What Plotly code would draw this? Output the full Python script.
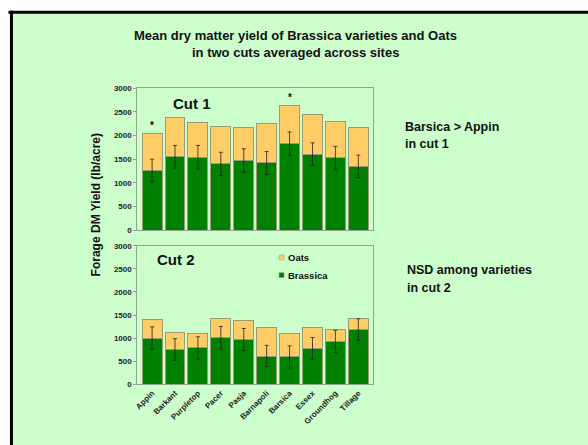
import plotly.graph_objects as go

varieties = ["Appin", "Barkant", "Purpletop", "Pacer", "Pasja", "Barnapoli",
             "Barsica", "Essex", "Groundhog", "Tillage"]

cut1_brassica = [1260, 1550, 1540, 1400, 1470, 1420, 1825, 1605, 1525, 1345]
cut1_total = [2045, 2390, 2280, 2190, 2165, 2260, 2645, 2455, 2300, 2160]
cut1_err = [240, 240, 250, 245, 250, 240, 250, 240, 245, 240]

cut2_brassica = [1000, 755, 790, 1010, 970, 615, 595, 775, 930, 1190]
cut2_total = [1415, 1120, 1100, 1420, 1385, 1235, 1095, 1235, 1190, 1425]
cut2_err = [245, 235, 240, 245, 240, 230, 240, 240, 240, 230]

significant_cut1 = ["Appin", "Barsica"]

cut1_oats = [t - b for t, b in zip(cut1_total, cut1_brassica)]
cut2_oats = [t - b for t, b in zip(cut2_total, cut2_brassica)]

W, H = 588, 445
def X(px):
    return px / W
def Y(py):
    return 1 - py / H

GREEN = "#008000"
OATS = "#FFCC66"
BG = "#CCFFCC"
BAR_LINE = "#9A9C78"
FRAME = "#8FA68F"
FONT = "Arial, Liberation Sans, sans-serif"

fig = go.Figure()

for xa, ya, br, oa, err in [("x", "y", cut1_brassica, cut1_oats, cut1_err),
                            ("x2", "y2", cut2_brassica, cut2_oats, cut2_err)]:
    fig.add_trace(go.Bar(x=varieties, y=br, name="Brassica", marker_color=GREEN,
                         marker_line=dict(color=BAR_LINE, width=1),
                         xaxis=xa, yaxis=ya, showlegend=False))
    fig.add_trace(go.Bar(x=varieties, y=oa, name="Oats", marker_color=OATS,
                         marker_line=dict(color=BAR_LINE, width=1),
                         xaxis=xa, yaxis=ya, showlegend=False))
    fig.add_trace(go.Scatter(x=varieties, y=br, mode="markers",
                             marker=dict(opacity=0, size=1),
                             error_y=dict(type="data", array=err, color="#222222",
                                          thickness=0.8, width=2),
                             xaxis=xa, yaxis=ya, showlegend=False, hoverinfo="skip"))

tickfont = dict(family=FONT, size=8, color="#222222", weight="bold")
axis_common = dict(showline=True, linecolor=FRAME, linewidth=1, mirror=True,
                   showgrid=False, zeroline=False)

fig.update_layout(
    width=W, height=H, autosize=False,
    margin=dict(l=0, r=0, t=0, b=0),
    paper_bgcolor="white", plot_bgcolor=BG,
    barmode="stack", bargap=0.13,
    showlegend=False,
    font=dict(family=FONT),
    xaxis=dict(domain=[X(135), X(372)], anchor="y", showticklabels=False,
               ticks="", **axis_common),
    yaxis=dict(domain=[Y(230.7), Y(86)], anchor="x", range=[0, 3000], dtick=500,
               ticks="outside", ticklen=3, tickcolor=FRAME, tickfont=tickfont,
               **axis_common),
    xaxis2=dict(domain=[X(135), X(372)], anchor="y2", tickangle=-45,
                ticks="", tickfont=tickfont, **axis_common),
    yaxis2=dict(domain=[Y(388.3), Y(246.7)], anchor="x2", range=[0, 3000], dtick=500,
                ticks="outside", ticklen=3, tickcolor=FRAME, tickfont=tickfont,
                **axis_common),
)

shapes = [
    # slide background
    dict(type="rect", xref="paper", yref="paper", x0=X(8), x1=X(600), y0=Y(460), y1=Y(8),
         fillcolor=BG, line=dict(width=0), layer="below"),
    # black slide frame (top and left)
    dict(type="line", xref="paper", yref="paper", x0=X(5.5), x1=X(600), y0=Y(8.5), y1=Y(8.5),
         line=dict(color="black", width=3)),
    dict(type="line", xref="paper", yref="paper", x0=X(8.5), x1=X(8.5), y0=Y(7), y1=Y(460),
         line=dict(color="black", width=3)),
    # manual legend squares
    dict(type="rect", xref="paper", yref="paper", x0=X(277.5), x1=X(282.5),
         y0=Y(261.2), y1=Y(256.2), fillcolor=OATS, line=dict(color=BAR_LINE, width=0.5)),
    dict(type="rect", xref="paper", yref="paper", x0=X(277.5), x1=X(282.5),
         y0=Y(279.2), y1=Y(274.2), fillcolor=GREEN, line=dict(color=BAR_LINE, width=0.5)),
]

def txt(x, y, text, size, xanchor="center", angle=0):
    return dict(xref="paper", yref="paper", x=X(x), y=Y(y), text=text, showarrow=False,
                xanchor=xanchor, yanchor="middle", textangle=angle,
                font=dict(family=FONT, size=size, color="#111111", weight="bold"))

annotations = [
    txt(294, 32, "Mean dry matter yield of Brassica varieties and Oats", 13),
    txt(294, 49.5, "in two cuts averaged across sites", 13),
    txt(190, 101.5, "Cut 1", 15),
    txt(174, 261, "Cut 2", 15),
    txt(402, 126, "Barsica > Appin", 12.5, xanchor="left"),
    txt(402, 143, "in cut 1", 12.5, xanchor="left"),
    txt(404, 272, "NSD among varieties", 12.5, xanchor="left"),
    txt(404, 290, "in cut 2", 12.5, xanchor="left"),
    txt(284.5, 258.7, "Oats", 9.5, xanchor="left"),
    txt(284.5, 276.7, "Brassica", 9.5, xanchor="left"),
    txt(93, 205, "Forage DM Yield (lb/acre)", 12, angle=-90),
]

for v in significant_cut1:
    i = varieties.index(v)
    annotations.append(dict(xref="x", yref="y", x=v, y=cut1_total[i], text="*",
                            showarrow=False, yanchor="bottom", yshift=0,
                            font=dict(family=FONT, size=10, color="#111111", weight="bold")))

fig.update_layout(shapes=shapes, annotations=annotations)

fig.write_html(
    "out.html",
    config={"displayModeBar": False},
    post_script="document.body.style.margin='0';document.body.style.overflow='hidden';",
)
